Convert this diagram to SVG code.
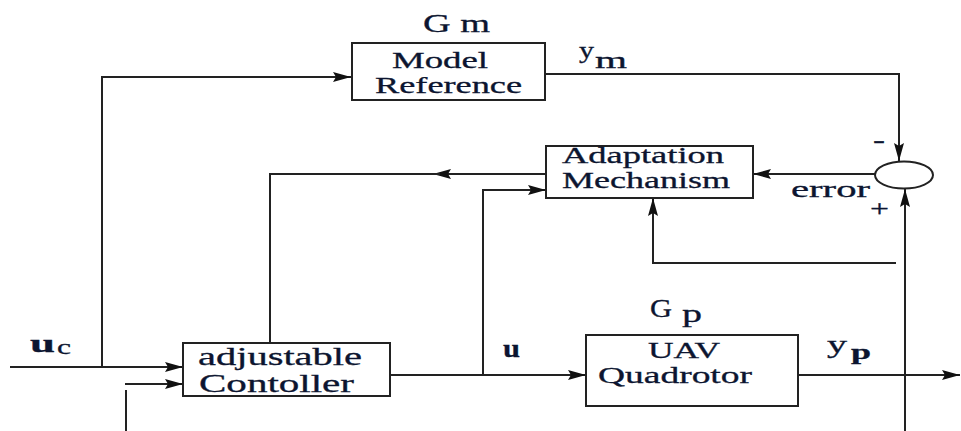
<svg xmlns="http://www.w3.org/2000/svg" width="961" height="431" viewBox="0 0 961 431">
<style>
.box{fill:#fff;stroke:#222;stroke-width:2}
.ln{fill:none;stroke:#222;stroke-width:2}
.arr{marker-end:url(#ah)}
text{fill:#0c1530;stroke:#0c1530;stroke-width:0.3;font-family:'Liberation Serif','Times New Roman',serif}
.t{font-size:23px}
.lab{font-size:25px}
</style>
<defs>
<marker id="ah" viewBox="0 0 18 10" refX="18" refY="5" markerWidth="18" markerHeight="10" markerUnits="userSpaceOnUse" orient="auto">
<path d="M0,0 L18,5 L0,10 L3,5 z" fill="#111"/>
</marker>
</defs>
<rect width="961" height="431" fill="#fff"/>
<g id="connectors">
<path class="ln arr" d="M10,367 H183"/>
<path class="ln arr" d="M102,367 V77 H351"/>
<path class="ln arr" d="M125,384 H183"/>
<path class="ln" d="M126,390 V431"/>
<path class="ln arr" d="M390,375 H586"/>
<path class="ln arr" d="M483,375 V190 H546"/>
<path class="ln arr" d="M546,174 H433"/>
<path class="ln" d="M440,174 H270 V343"/>
<path class="ln arr" d="M545,74 H899 V161"/>
<path class="ln arr" d="M875,174 H753"/>
<path class="ln arr" d="M798,375 H960"/>
<path class="ln arr" d="M905,431 V189"/>
<path class="ln arr" d="M896,263 H653 V198"/>
</g>
<g id="model-reference">
<rect class="box" x="352" y="43" width="193" height="57"/>
<text class="t" x="392" y="68" textLength="96" lengthAdjust="spacingAndGlyphs">Model</text>
<text class="t" x="375" y="93" textLength="147" lengthAdjust="spacingAndGlyphs">Reference</text>
<text class="lab" x="423" y="32" textLength="67" lengthAdjust="spacingAndGlyphs">G m</text>
</g>
<g id="adaptation-mechanism">
<rect class="box" x="546" y="146" width="207" height="52"/>
<text class="t" x="562" y="163" textLength="162" lengthAdjust="spacingAndGlyphs">Adaptation</text>
<text class="t" x="562" y="188" textLength="168" lengthAdjust="spacingAndGlyphs">Mechanism</text>
</g>
<g id="sum">
<ellipse class="ln" cx="904" cy="175" rx="29" ry="13.5"/>
<text class="t" x="873" y="148" textLength="12" lengthAdjust="spacingAndGlyphs">-</text>
<text class="t" x="870" y="216" textLength="19" lengthAdjust="spacingAndGlyphs">+</text>
</g>
<g id="controller">
<rect class="box" x="183" y="343" width="207" height="53"/>
<text class="lab" x="198" y="365" textLength="164" lengthAdjust="spacingAndGlyphs">adjustable</text>
<text class="lab" x="199" y="392" textLength="155" lengthAdjust="spacingAndGlyphs">Contoller</text>
</g>
<g id="uav">
<rect class="box" x="586" y="335" width="212" height="71"/>
<text class="t" x="648" y="358" textLength="72" lengthAdjust="spacingAndGlyphs">UAV</text>
<text class="t" x="598" y="383" textLength="154" lengthAdjust="spacingAndGlyphs">Quadrotor</text>
<text class="lab" x="650" y="317" textLength="22" lengthAdjust="spacingAndGlyphs">G</text>
<text class="lab" x="682" y="322" textLength="20" lengthAdjust="spacingAndGlyphs">p</text>
</g>
<g id="labels">
<text class="t" x="579" y="58" textLength="15" lengthAdjust="spacingAndGlyphs">y</text>
<text class="t" x="595" y="68" textLength="32" lengthAdjust="spacingAndGlyphs">m</text>
<text class="t" x="791" y="197" textLength="79" lengthAdjust="spacingAndGlyphs">error</text>
<text font-size="26" font-weight="bold" x="30" y="352" textLength="25" lengthAdjust="spacingAndGlyphs">u</text>
<text font-size="20" x="57" y="354" textLength="14" lengthAdjust="spacingAndGlyphs">c</text>
<text font-size="26" font-weight="bold" x="503" y="357" textLength="17" lengthAdjust="spacingAndGlyphs">u</text>
<text class="lab" x="827" y="353" textLength="20" lengthAdjust="spacingAndGlyphs">y</text>
<text font-size="20" font-weight="bold" x="851" y="359" textLength="20" lengthAdjust="spacingAndGlyphs">p</text>
</g>
</svg>
